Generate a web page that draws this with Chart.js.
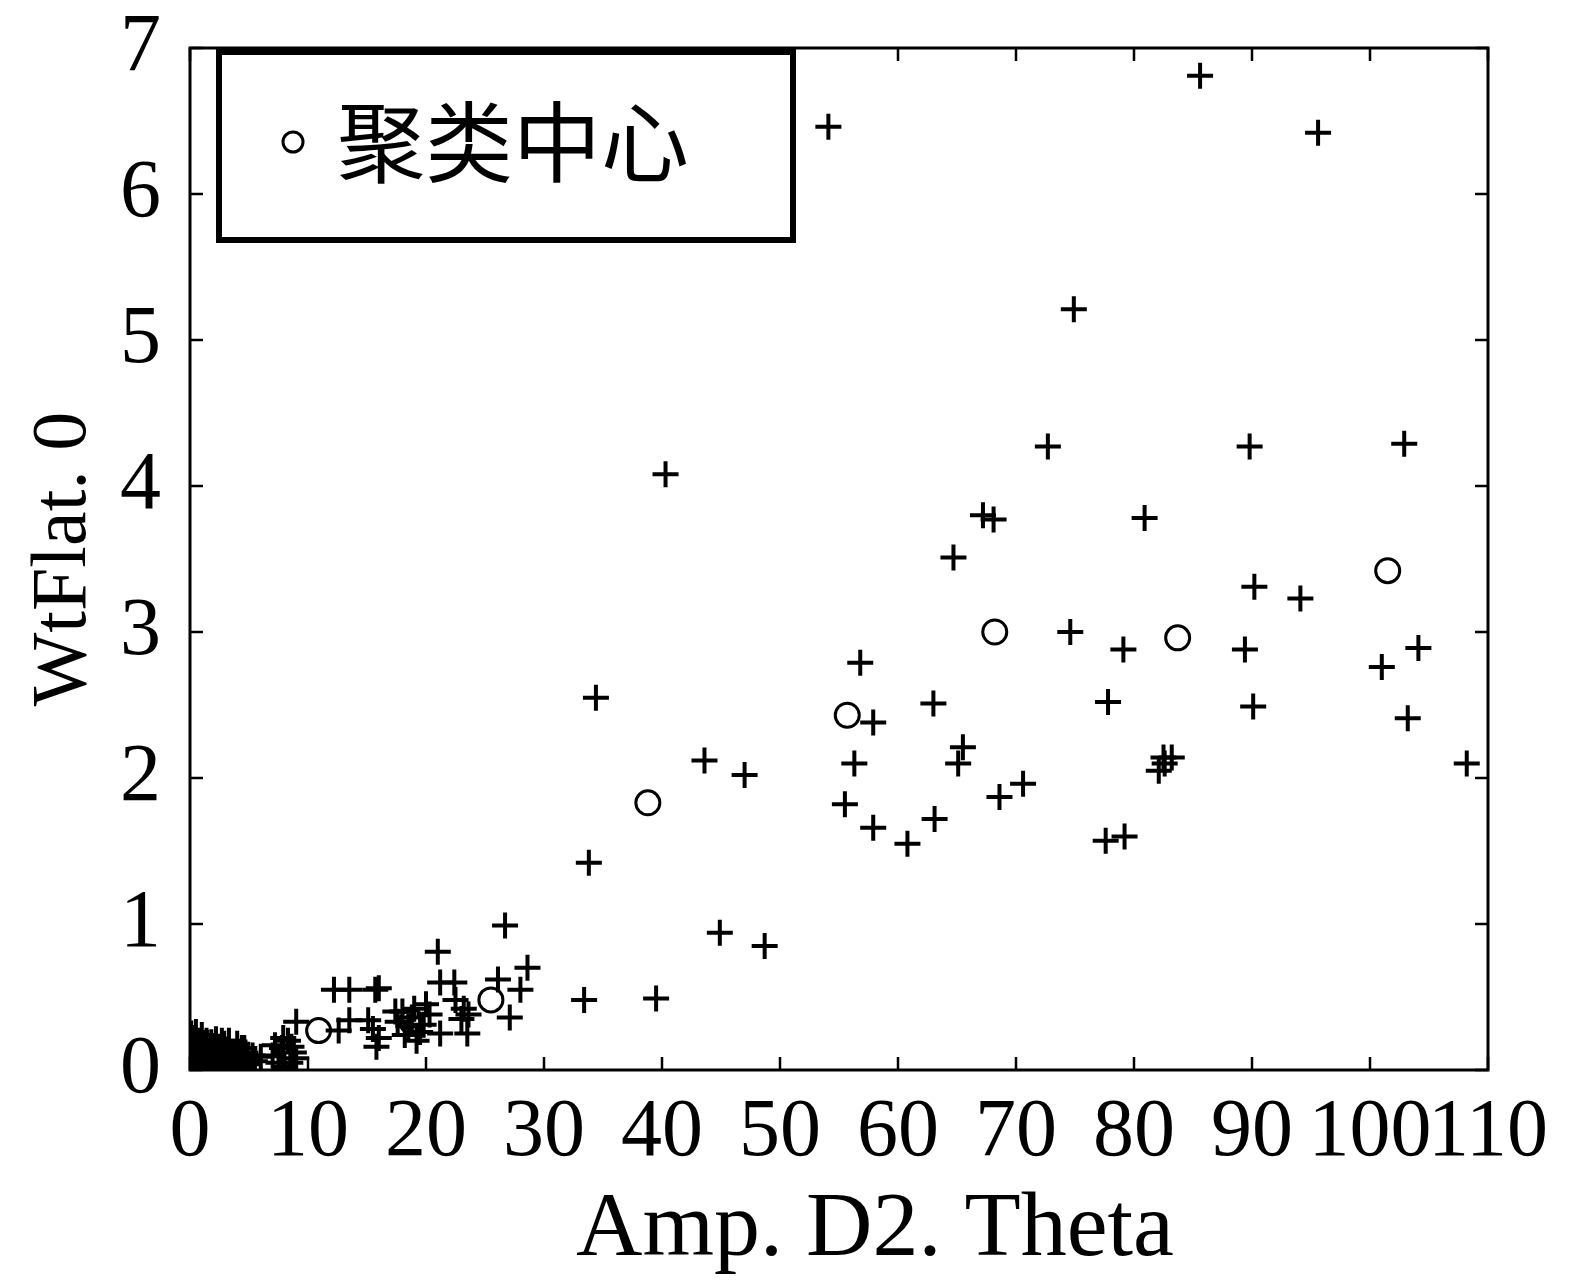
<!DOCTYPE html>
<html>
<head>
<meta charset="utf-8">
<script src="https://cdn.jsdelivr.net/npm/chart.js@4.4.1/dist/chart.umd.min.js"></script>
<style>
  html, body { margin: 0; padding: 0; background: #fff; }
  #wrap { width: 1579px; height: 1284px; }
</style>
</head>
<body>
<div id="wrap"><canvas id="c" width="1579" height="1284"></canvas></div>
<script>
// ---- data ----
const xTickValues = [0, 10, 20, 30, 40, 50, 60, 70, 80, 90, 100, 110];
const yTickValues = [0, 1, 2, 3, 4, 5, 6, 7];
const xAxisTitle = 'Amp. D2. Theta';
const yAxisTitle = 'WtFlat. 0';
const centerLabel = '聚类中心';

// cluster centres (circles)
const centerX = [10.9, 18.8, 25.5, 38.8, 55.7, 68.2, 83.7, 101.5];
const centerY = [0.27, 0.33, 0.48, 1.83, 2.43, 3.00, 2.96, 3.42];

// samples (plus signs)
const sampleX = [
  54.1, 85.6, 95.6, 74.9, 40.3, 72.7, 89.8, 102.9, 67.2, 68.1, 80.9, 64.7,
  90.2, 94.1, 74.6, 79.1, 89.4, 104.1, 101.0, 56.8, 63.0, 77.8, 90.1, 103.2,
  57.9, 65.5, 65.1, 56.3, 70.6, 68.6, 55.5, 57.9, 63.1, 60.8, 77.6, 79.2,
  82.1, 82.5, 83.2, 82.6, 108.2, 34.4, 43.6, 47.0, 33.8, 44.9, 48.7, 33.4, 39.5,
  26.7, 21.0, 28.6, 28.0, 27.1, 26.1, 21.2, 22.4, 22.5, 23.2, 23.6, 23.0,
  21.2, 23.5, 16.0, 12.2, 13.5, 15.7, 9.0, 12.6, 13.5, 15.1, 15.5, 16.0, 15.8,
  18.0, 19.0, 20.0, 18.5, 19.5, 18.8, 20.3, 19.2, 17.6, 18.2, 19.8, 17.4,
  6.0, 7.0, 7.8, 8.3, 8.8, 7.5, 9.0, 8.0, 7.2, 8.5, 7.9, 8.6,
  0.1, 0.2, 0.3, 0.5, 0.7, 0.9, 1.1, 1.3, 1.5, 1.8, 2.0, 2.3, 2.5, 2.8, 3.1,
  3.4, 3.7, 4.0, 4.3, 4.7, 5.0, 5.3, 0.4, 1.0, 2.2, 3.0, 0.2, 1.6, 4.5,
  0.6, 1.2, 1.9, 2.6, 3.3, 3.9, 4.4, 0.8, 1.4, 2.1, 2.7, 3.5, 4.1, 4.9, 0.1, 0.5,
  0.3, 1.7, 2.9, 3.6, 4.6, 5.5, 2.4, 1.0
];
const sampleY = [
  6.46, 6.81, 6.42, 5.21, 4.08, 4.27, 4.27, 4.29, 3.80, 3.77, 3.78, 3.51,
  3.31, 3.23, 3.00, 2.88, 2.88, 2.89, 2.76, 2.79, 2.51, 2.52, 2.49, 2.41,
  2.38, 2.21, 2.10, 2.10, 1.96, 1.87, 1.82, 1.66, 1.72, 1.55, 1.57, 1.60,
  2.05, 2.14, 2.14, 2.10, 2.10, 2.55, 2.12, 2.02, 1.42, 0.94, 0.85, 0.48, 0.49,
  0.99, 0.81, 0.70, 0.55, 0.36, 0.62, 0.60, 0.60, 0.48, 0.42, 0.38, 0.35,
  0.25, 0.25, 0.56, 0.55, 0.55, 0.55, 0.33, 0.27, 0.34, 0.34, 0.28, 0.22, 0.16,
  0.40, 0.42, 0.45, 0.30, 0.26, 0.36, 0.38, 0.20, 0.33, 0.24, 0.31, 0.40,
  0.09, 0.10, 0.15, 0.20, 0.12, 0.05, 0.08, 0.02, 0.17, 0.05, 0.22, 0.16,
  0.25, 0.18, 0.10, 0.04, 0.20, 0.12, 0.02, 0.16, 0.08, 0.19, 0.11, 0.04, 0.16, 0.09, 0.14,
  0.05, 0.12, 0.18, 0.07, 0.12, 0.04, 0.10, 0.22, 0.24, 0.21, 0.00, 0.00, 0.00, 0.00,
  0.14, 0.07, 0.05, 0.03, 0.20, 0.02, 0.15, 0.08, 0.20, 0.16, 0.20, 0.10, 0.10, 0.08, 0.12, 0.26,
  0.06, 0.13, 0.18, 0.02, 0.15, 0.06, 0.09, 0.17
];

const toPts = (xs, ys) => xs.map((x, i) => ({ x: x, y: ys[i] }));

const SERIF = '"Liberation Serif", "DejaVu Serif", serif';

// frame with inward ticks on all four sides, x-axis title, legend box inside plot
const framePlugin = {
  id: 'frame',
  afterDraw(chart) {
    const ctx = chart.ctx;
    const a = chart.chartArea;
    const xs = chart.scales.x, ys = chart.scales.y;
    ctx.save();
    ctx.strokeStyle = '#000';
    ctx.lineWidth = 3;
    ctx.strokeRect(a.left, a.top, a.right - a.left, a.bottom - a.top);
    ctx.lineWidth = 2.5;
    const tl = 13;
    ctx.beginPath();
    xTickValues.forEach(v => {
      const px = xs.getPixelForValue(v);
      ctx.moveTo(px, a.bottom); ctx.lineTo(px, a.bottom - tl);
      ctx.moveTo(px, a.top); ctx.lineTo(px, a.top + tl);
    });
    yTickValues.forEach(v => {
      const py = ys.getPixelForValue(v);
      ctx.moveTo(a.left, py); ctx.lineTo(a.left + tl, py);
      ctx.moveTo(a.right, py); ctx.lineTo(a.right - tl, py);
    });
    ctx.stroke();

    // x-axis title (slightly right of centre, as in the reference)
    ctx.fillStyle = '#000';
    ctx.font = '92px ' + SERIF;
    ctx.textAlign = 'center';
    ctx.textBaseline = 'alphabetic';
    ctx.fillText(xAxisTitle, (a.left + a.right) / 2 + 36, a.bottom + 185);

    // legend box
    const bx = a.left + 29, by = a.top + 4, bw = 574, bh = 188;
    ctx.fillStyle = '#fff';
    ctx.fillRect(bx, by, bw, bh);
    ctx.lineWidth = 6;
    ctx.strokeRect(bx, by, bw, bh);
    const ds = chart.data.datasets[0];
    ctx.lineWidth = 3;
    ctx.beginPath();
    ctx.arc(bx + 74, by + 90, 10, 0, Math.PI * 2);
    ctx.stroke();
    ctx.fillStyle = '#000';
    ctx.font = '88px "Noto Sans CJK SC", "Noto Sans CJK JP", sans-serif';
    ctx.textBaseline = 'middle';
    ctx.textAlign = 'left';
    ctx.fillText(ds.label, bx + 118, by + 90);
    ctx.restore();
  }
};

new Chart(document.getElementById('c'), {
  type: 'scatter',
  data: {
    datasets: [
      {
        label: centerLabel,
        data: toPts(centerX, centerY),
        pointStyle: 'circle',
        pointRadius: 12,
        pointBorderWidth: 3,
        pointBorderColor: '#000',
        pointBackgroundColor: 'rgba(0,0,0,0)'
      },
      {
        label: 'samples',
        data: toPts(sampleX, sampleY),
        pointStyle: 'cross',
        pointRadius: 13,
        pointBorderWidth: 4,
        pointBorderColor: '#000',
        pointBackgroundColor: '#000'
      }
    ]
  },
  options: {
    responsive: false,
    animation: false,
    events: [],
    layout: { padding: { top: 48, right: 91, left: 0, bottom: 0 } },
    plugins: { legend: { display: false }, tooltip: { enabled: false } },
    scales: {
      x: {
        type: 'linear',
        min: 0, max: 110,
        afterBuildTicks(scale) { scale.ticks = xTickValues.map(v => ({ value: v })); },
        afterFit(scale) { scale.height = 214; },
        grid: { display: false },
        border: { display: false },
        ticks: {
          autoSkip: false, maxRotation: 0, minRotation: 0,
          color: '#000', padding: 6,
          font: { family: SERIF, size: 82 }
        },
        title: { display: false }
      },
      y: {
        type: 'linear',
        min: 0, max: 7,
        afterBuildTicks(scale) { scale.ticks = yTickValues.map(v => ({ value: v })); },
        afterFit(scale) { scale.width = 190; },
        grid: { display: false },
        border: { display: false },
        ticks: {
          autoSkip: false, color: '#000', padding: 21,
          font: { family: SERIF, size: 82, lineHeight: 0.5 }
        },
        title: {
          display: true, text: yAxisTitle, color: '#000',
          font: { family: SERIF, size: 78 },
          padding: { top: 18, bottom: 0 }
        }
      }
    }
  },
  plugins: [framePlugin]
});
</script>
</body>
</html>
